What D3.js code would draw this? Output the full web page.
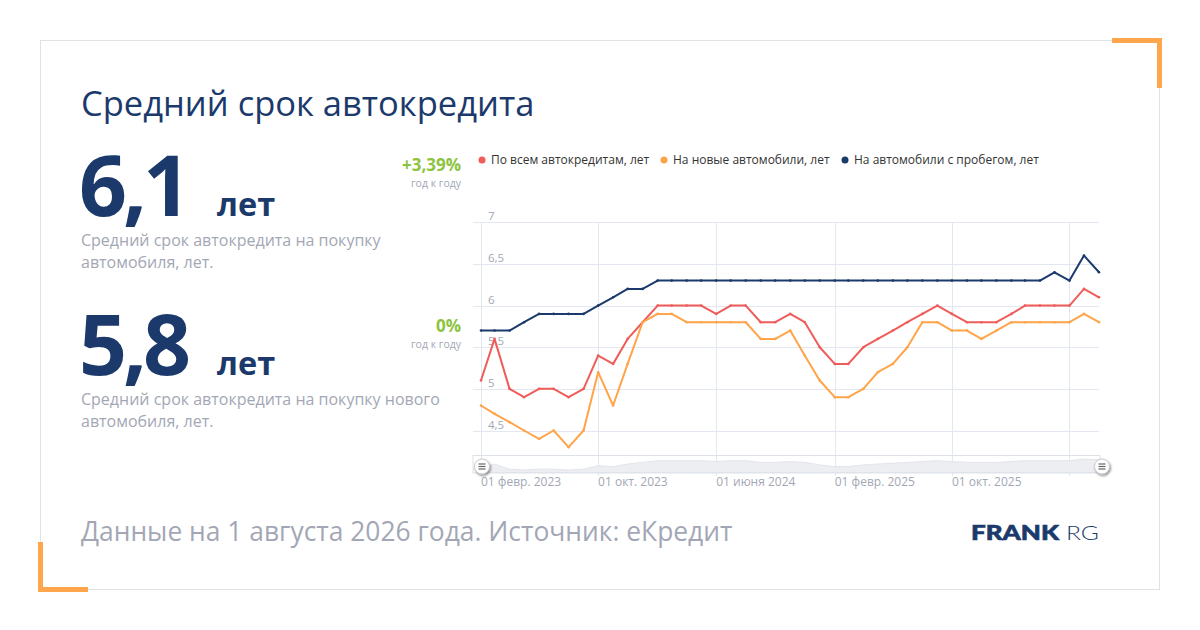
<!DOCTYPE html>
<html lang="ru">
<head>
<meta charset="utf-8">
<title>Средний срок автокредита</title>
<script src="https://cdn.jsdelivr.net/npm/d3@7"></script>
<style>
    html, body { margin: 0; padding: 0; background: #ffffff; }
    svg { display: block; font-family: "Open Sans", "Noto Sans", sans-serif; }
</style>
</head>
<body>
<svg id="chart" width="1200" height="630"></svg>
<script>
// Chart data (monthly, Feb 2023 - Aug 2026)
const startMonth = new Date(2023, 1, 1);
const allLoans = [5.1, 5.6, 5.0, 4.9, 5.0, 5.0, 4.9, 5.0, 5.4, 5.3, 5.6, 5.8, 6.0, 6.0, 6.0, 6.0, 5.9, 6.0, 6.0, 5.8, 5.8,
    5.9, 5.8, 5.5, 5.3, 5.3, 5.5, 5.6, 5.7, 5.8, 5.9, 6.0, 5.9, 5.8, 5.8, 5.8, 5.9, 6.0, 6.0, 6.0, 6.0, 6.2, 6.1];
const newCars = [4.8, 4.7, 4.6, 4.5, 4.4, 4.5, 4.3, 4.5, 5.2, 4.8, 5.3, 5.8, 5.9, 5.9, 5.8, 5.8, 5.8, 5.8, 5.8, 5.6, 5.6,
    5.7, 5.4, 5.1, 4.9, 4.9, 5.0, 5.2, 5.3, 5.5, 5.8, 5.8, 5.7, 5.7, 5.6, 5.7, 5.8, 5.8, 5.8, 5.8, 5.8, 5.9, 5.8];
const usedCars = [5.7, 5.7, 5.7, 5.8, 5.9, 5.9, 5.9, 5.9, 6.0, 6.1, 6.2, 6.2, 6.3, 6.3, 6.3, 6.3, 6.3, 6.3, 6.3, 6.3, 6.3,
    6.3, 6.3, 6.3, 6.3, 6.3, 6.3, 6.3, 6.3, 6.3, 6.3, 6.3, 6.3, 6.3, 6.3, 6.3, 6.3, 6.3, 6.3, 6.4, 6.3, 6.6, 6.4];

const seriesNames = ['По всем автокредитам, лет', 'На новые автомобили, лет', 'На автомобили с пробегом, лет'];
const seriesColors = ['#ef5d5a', '#ffa449', '#1b3a6b'];

const yTicks = [4.5, 5, 5.5, 6, 6.5, 7];
const xTickDates = [new Date(2023, 1, 1), new Date(2023, 9, 1), new Date(2024, 5, 1), new Date(2025, 1, 1), new Date(2025, 9, 1), new Date(2026, 5, 1)];
const xTickLabels = ['01 февр. 2023', '01 окт. 2023', '01 июня 2024', '01 февр. 2025', '01 окт. 2025', ''];

const months = allLoans.map((v, i) => new Date(startMonth.getFullYear(), startMonth.getMonth() + i, 1));

const svg = d3.select('#chart');
const navy = '#1b3a6b';
const grey = '#a3a7b5';

// Card frame with orange corners
svg.append('rect')
    .attr('x', 40.5).attr('y', 40.5)
    .attr('width', 1119).attr('height', 549)
    .attr('fill', '#fff')
    .attr('stroke', '#e2e2e2');

svg.append('path')
    .attr('d', 'M1112,40.5 H1159.5 V88')
    .attr('fill', 'none').attr('stroke', '#ffa64d').attr('stroke-width', 5);
svg.append('path')
    .attr('d', 'M40.5,542 V589.5 H88')
    .attr('fill', 'none').attr('stroke', '#ffa64d').attr('stroke-width', 5);

// Title
svg.append('text')
    .attr('x', 81).attr('y', 116)
    .attr('font-size', 34.5).attr('fill', navy)
    .text('Средний срок автокредита');

// Key figures on the left
function addFigure(value, baseline, lines, change, changeBase) {
    svg.append('text')
        .attr('x', 79).attr('y', baseline)
        .attr('font-size', 84).attr('font-weight', 700)
        .attr('letter-spacing', -4)
        .attr('fill', navy)
        .text(value);
    svg.append('text')
        .attr('x', 217).attr('y', baseline)
        .attr('font-size', 32.5).attr('font-weight', 700)
        .attr('fill', navy)
        .text('лет');
    lines.forEach((line, i) => {
        svg.append('text')
            .attr('x', 81).attr('y', baseline + 30 + i * 22)
            .attr('font-size', 16).attr('fill', grey)
            .text(line);
    });
    svg.append('text')
        .attr('x', 461).attr('y', changeBase)
        .attr('text-anchor', 'end')
        .attr('font-size', 17).attr('font-weight', 700)
        .attr('fill', '#8cc43f')
        .text(change);
    svg.append('text')
        .attr('x', 461).attr('y', changeBase + 16)
        .attr('text-anchor', 'end')
        .attr('font-size', 10.5).attr('fill', grey)
        .text('год к году');
}

addFigure('6,1', 216, ['Средний срок автокредита на покупку', 'автомобиля, лет.'], '+3,39%', 171);
addFigure('5,8', 375, ['Средний срок автокредита на покупку нового', 'автомобиля, лет.'], '0%', 332);

// Footer
svg.append('text')
    .attr('x', 81).attr('y', 541)
    .attr('font-size', 26.4).attr('fill', grey)
    .text('Данные на 1 августа 2026 года. Источник: еКредит');

svg.append('text')
    .attr('x', 971).attr('y', 540)
    .attr('font-family', 'Lato, Inter, sans-serif')
    .attr('font-size', 20).attr('font-weight', 900)
    .attr('fill', navy)
    .attr('stroke', navy).attr('stroke-width', 0.6)
    .attr('textLength', 88).attr('lengthAdjust', 'spacingAndGlyphs')
    .text('FRANK');
svg.append('text')
    .attr('x', 1066).attr('y', 540)
    .attr('font-family', 'Lato, Inter, sans-serif')
    .attr('font-size', 20).attr('font-weight', 300)
    .attr('fill', navy)
    .attr('textLength', 33).attr('lengthAdjust', 'spacingAndGlyphs')
    .text('RG');

// Scales
const x = d3.scaleTime()
    .domain([months[0], months[months.length - 1]])
    .range([481, 1099]);
const y = d3.scaleLinear()
    .domain([4.5, 7])
    .range([430.5, 222.3]);

// Grid
const grid = svg.append('g');
grid.selectAll('line.h')
    .data(yTicks)
    .enter()
    .append('line')
    .attr('x1', 473).attr('x2', 1099)
    .attr('y1', d => Math.round(y(d)) + 0.5)
    .attr('y2', d => Math.round(y(d)) + 0.5)
    .attr('stroke', '#e3e7f1');
grid.selectAll('line.v')
    .data(xTickDates)
    .enter()
    .append('line')
    .attr('x1', d => Math.round(x(d)) + 0.5)
    .attr('x2', d => Math.round(x(d)) + 0.5)
    .attr('y1', 222).attr('y2', 476)
    .attr('stroke', '#e3e7f1');

// Y labels sit inside the plot, above their grid line
svg.selectAll('text.ylab')
    .data(yTicks)
    .enter()
    .append('text')
    .attr('x', 488)
    .attr('y', d => y(d) - 2)
    .attr('font-size', 11.5).attr('fill', grey)
    .text(d => d3.format('')(d).replace('.', ','));

// X labels
svg.selectAll('text.xlab')
    .data(xTickDates)
    .enter()
    .append('text')
    .attr('x', d => x(d))
    .attr('y', 486)
    .attr('font-size', 12).attr('fill', grey)
    .text((d, i) => xTickLabels[i]);

// Navigator
const navY = d3.scaleLinear()
    .domain(d3.extent(allLoans))
    .range([470, 459]);
const navArea = d3.area()
    .x((d, i) => x(months[i]))
    .y0(472.5)
    .y1(d => navY(d));
svg.append('path')
    .datum(allLoans)
    .attr('d', navArea)
    .attr('fill', '#eceef2')
    .attr('stroke', '#e2e5eb');
svg.append('rect')
    .attr('x', 473).attr('y', 455.5)
    .attr('width', 627).attr('height', 17.5)
    .attr('fill', 'none')
    .attr('stroke', '#dde1e8');

// Series lines
const line = d3.line()
    .x((d, i) => x(months[i]))
    .y(d => y(d));

[allLoans, newCars, usedCars].forEach((values, s) => {
    svg.append('path')
        .datum(values)
        .attr('d', line)
        .attr('fill', 'none')
        .attr('stroke', seriesColors[s])
        .attr('stroke-width', 2)
        .attr('stroke-linejoin', 'round');
    svg.append('g')
        .selectAll('circle')
        .data(values)
        .enter()
        .append('circle')
        .attr('cx', (d, i) => x(months[i]))
        .attr('cy', d => y(d))
        .attr('r', 1.3)
        .attr('fill', seriesColors[s]);
});

// Navigator handles
const defs = svg.append('defs');
const shadow = defs.append('filter').attr('id', 'shadow').attr('x', '-50%').attr('y', '-50%').attr('width', '200%').attr('height', '200%');
shadow.append('feDropShadow').attr('dx', 1).attr('dy', 1.5).attr('stdDeviation', 1.2).attr('flood-color', '#000').attr('flood-opacity', 0.45);

[482, 1102].forEach(hx => {
    const h = svg.append('g').attr('transform', `translate(${hx},466.5)`);
    h.append('circle')
        .attr('r', 7.5)
        .attr('fill', '#fff')
        .attr('stroke', '#c8c8c8')
        .attr('filter', 'url(#shadow)');
    [-2.5, 0, 2.5].forEach(dy => {
        h.append('line')
            .attr('x1', -3.5).attr('x2', 3.5)
            .attr('y1', dy).attr('y2', dy)
            .attr('stroke', '#666').attr('stroke-width', 1.2);
    });
});

// Legend
const legendX = [482, 664, 845];
const legend = svg.append('g');
seriesNames.forEach((name, i) => {
    legend.append('circle')
        .attr('cx', legendX[i]).attr('cy', 160)
        .attr('r', 3.5)
        .attr('fill', seriesColors[i]);
    legend.append('text')
        .attr('x', legendX[i] + 9).attr('y', 164)
        .attr('font-size', 12).attr('fill', '#333')
        .text(name);
});
</script>
</body>
</html>
